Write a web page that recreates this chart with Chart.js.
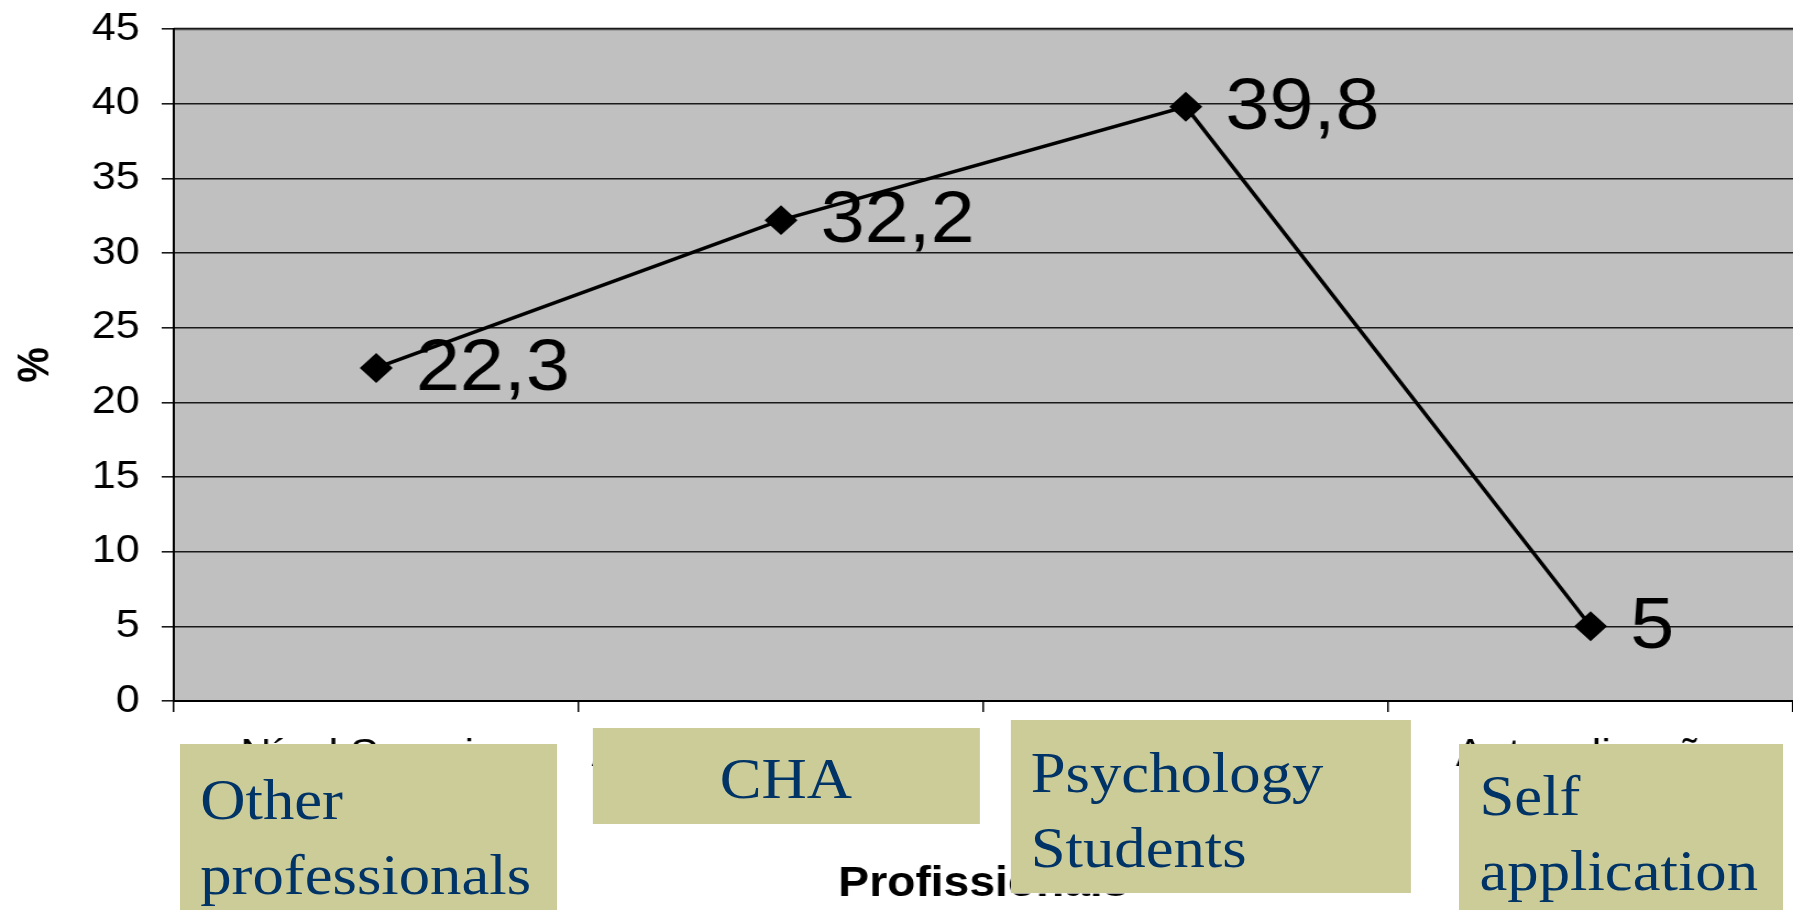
<!DOCTYPE html>
<html>
<head>
<meta charset="utf-8">
<script src="https://cdn.jsdelivr.net/npm/chart.js@4/dist/chart.umd.min.js"></script>
<style>
  html, body { margin: 0; padding: 0; background: #fff; overflow: hidden; }
  /* the reference is stretched sideways by about 1.1, so the whole chart is too */
  #wrap {
    position: relative;
    width: 1630px;
    height: 910px;
    transform: scaleX(1.1);
    transform-origin: 0 0;
  }
  #myChart { position: absolute; left: 0; top: 0; }
  .box {
    position: absolute;
    background: #cccc99;
    color: #003366;
    font-family: "Liberation Serif", "Times New Roman", serif;
    font-size: 57px;
    line-height: 75px;
    white-space: pre;
    box-sizing: border-box;
  }
</style>
</head>
<body>
<div id="wrap">
  <canvas id="myChart" width="1630" height="910"></canvas>
</div>
<script>
// Data
var categories = ["Nível Superior", "Agente Comunitário", "Estudantes", "Autoaplicação"];
var percentages = [22.3, 32.2, 39.8, 5];
var valueLabels = ["22,3", "32,2", "39,8", "5"];
var englishLabels = ["Other\nprofessionals", "CHA", "Psychology\nStudents", "Self\napplication"];

// Text boxes laid over the axis labels
var boxStyles = [
  "left:164px;top:744px;width:342px;height:170px;padding:18px 0 0 18px;",
  "left:539px;top:728px;width:351px;height:96px;padding:13px 0 0 0;text-align:center;",
  "left:919px;top:720px;width:363px;height:173px;padding:15px 0 0 18px;",
  "left:1326px;top:744px;width:294px;height:170px;padding:14px 0 0 19px;"
];

var wrap = document.getElementById("wrap");
for (var i = 0; i < englishLabels.length; i++) {
  var div = document.createElement("div");
  div.className = "box";
  div.setAttribute("style", boxStyles[i]);
  div.textContent = englishLabels[i];
  wrap.appendChild(div);
}

// grey plot background and top border
var plotBackground = {
  id: "plotBackground",
  beforeDraw: function (chart) {
    var a = chart.chartArea;
    var ctx = chart.ctx;
    ctx.save();
    ctx.fillStyle = "#c0c0c0";
    ctx.fillRect(a.left, a.top, a.right - a.left, a.bottom - a.top);
    ctx.strokeStyle = "#808080";
    ctx.lineWidth = 3;
    ctx.beginPath();
    ctx.moveTo(a.left, a.top);
    ctx.lineTo(a.right, a.top);
    ctx.stroke();
    ctx.restore();
  }
};

// value labels to the right of each point
var pointLabels = {
  id: "pointLabels",
  afterDatasetsDraw: function (chart) {
    var ctx = chart.ctx;
    var meta = chart.getDatasetMeta(0);
    ctx.save();
    ctx.font = "72px 'Liberation Sans', Arial, sans-serif";
    ctx.fillStyle = "#000";
    ctx.textAlign = "left";
    ctx.textBaseline = "middle";
    meta.data.forEach(function (pt, idx) {
      ctx.fillText(valueLabels[idx], pt.x + 36, pt.y + 2);
    });
    ctx.restore();
  }
};

var ctx = document.getElementById("myChart").getContext("2d");
var chart = new Chart(ctx, {
  type: "line",
  data: {
    labels: categories,
    datasets: [
      {
        data: percentages,
        borderColor: "#000",
        borderWidth: 3.5,
        backgroundColor: "#000",
        pointStyle: "rectRot",
        pointRadius: 12.5,
        pointBackgroundColor: "#000",
        pointBorderColor: "#000",
        fill: false,
        tension: 0
      }
    ]
  },
  options: {
    responsive: false,
    animation: false,
    devicePixelRatio: 1,
    layout: { autoPadding: false, padding: { top: 29, right: -4, left: 0, bottom: 0 } },
    plugins: {
      legend: { display: false },
      tooltip: { enabled: false }
    },
    scales: {
      x: {
        offset: true,
        grid: {
          offset: true,
          drawOnChartArea: false,
          drawTicks: true,
          tickLength: 11,
          color: "#000",
          lineWidth: 1.5
        },
        border: { color: "#000", width: 2 },
        ticks: {
          color: "#000",
          autoSkip: false,
          maxRotation: 0,
          padding: 20,
          font: { family: "'Liberation Sans', Arial, sans-serif", size: 39 }
        },
        title: {
          display: true,
          text: "Profissionais",
          color: "#000",
          padding: { top: 0, bottom: 0 },
          font: { family: "'Liberation Sans', Arial, sans-serif", size: 42, weight: "bold" }
        },
        afterFit: function (scale) {
          scale.height = 209;
          scale.paddingLeft = 0;
          scale.paddingRight = 0;
        }
      },
      y: {
        min: 0,
        max: 45,
        grid: {
          color: "#1a1a1a",
          lineWidth: 1.6,
          tickLength: 11
        },
        border: { color: "#000", width: 2 },
        ticks: {
          stepSize: 5,
          color: "#000",
          padding: 20,
          font: { family: "'Liberation Sans', Arial, sans-serif", size: 39 }
        },
        title: {
          display: true,
          text: "%",
          color: "#000",
          padding: { top: 9, bottom: 0 },
          font: { family: "'Liberation Sans', Arial, sans-serif", size: 40, weight: "bold" }
        },
        afterFit: function (scale) {
          scale.width = 158;
          scale.paddingTop = 0;
          scale.paddingBottom = 0;
        }
      }
    }
  },
  plugins: [plotBackground, pointLabels]
});
</script>
</body>
</html>
